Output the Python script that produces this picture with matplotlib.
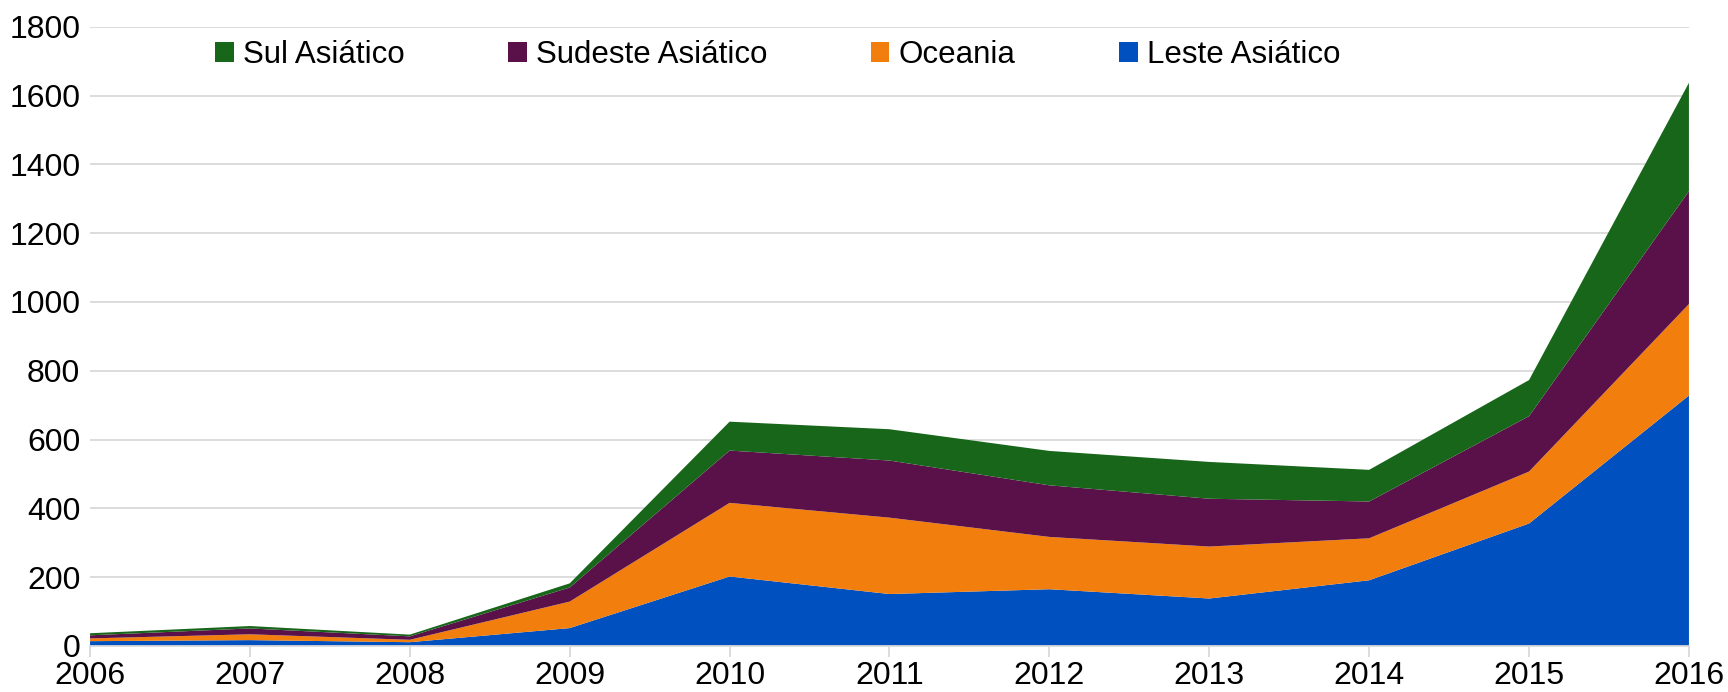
import matplotlib.pyplot as plt
from matplotlib.patches import Patch

plt.rcParams['font.family'] = ['Liberation Sans', 'DejaVu Sans']

anos = [2006, 2007, 2008, 2009, 2010, 2011, 2012, 2013, 2014, 2015, 2016]
leste = [14, 17, 11, 52, 202, 151, 165, 138, 191, 356, 728]
oceania = [8, 17, 7, 77, 214, 222, 152, 151, 122, 151, 266]
sudeste = [9, 17, 10, 41, 152, 166, 150, 139, 107, 161, 328]
sul = [6, 7, 5, 12, 84, 91, 100, 107, 92, 105, 315]

nomes = ['Leste Asiático', 'Oceania', 'Sudeste Asiático', 'Sul Asiático']
cores = ['#0050bf', '#f17e0d', '#5a114a', '#18661a']

fig = plt.figure(figsize=(17.28, 6.92), dpi=100)
ax = fig.add_axes([0.0521, 0.0665, 0.9253, 0.8949])

ax.stackplot(anos, leste, oceania, sudeste, sul, colors=cores, linewidth=0)

ax.set_xlim(2006, 2016)
ax.set_ylim(0, 1800)
ax.set_yticks(range(0, 1801, 200))
ax.set_xticks(anos)
ax.grid(axis='y', color='#d9d9d9', linewidth=1.3)
ax.set_axisbelow(True)
for s in ['top', 'right', 'left']:
    ax.spines[s].set_visible(False)
ax.spines['bottom'].set_color('#d9d9d9')
ax.spines['bottom'].set_linewidth(1.3)
ax.tick_params(axis='x', direction='out', length=8, color='#d9d9d9', width=1.3,
               labelsize=23, pad=3)
ax.tick_params(axis='y', length=0, labelsize=23, pad=7)

# legenda em ordem inversa
handles = [Patch(facecolor=cores[i], label=nomes[i]) for i in [3, 2, 1, 0]]
fig.legend(handles=handles, loc='center left', bbox_to_anchor=(0.1244, 0.9205),
           ncol=4, frameon=False, fontsize=22.5, handlelength=0.6, handleheight=0.6,
           handletextpad=0.3, columnspacing=3.3, borderaxespad=0, borderpad=0)

fig.savefig('out.png', dpi=100)
